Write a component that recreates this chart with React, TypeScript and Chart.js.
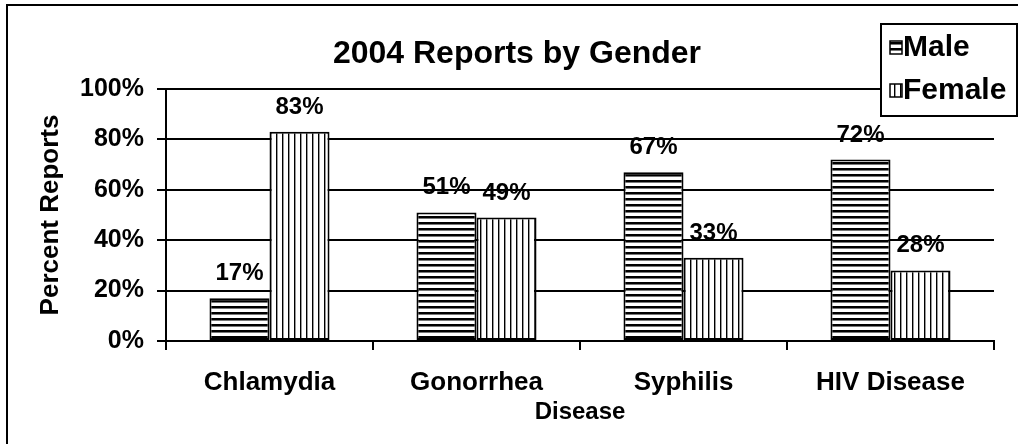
import React, { useEffect, useRef } from "react";
import { Chart, registerables } from "chart.js";

Chart.register(...registerables);

const categories = ["Chlamydia", "Gonorrhea", "Syphilis", "HIV Disease"];
const maleValues = [17, 51, 67, 72];
const femaleValues = [83, 49, 33, 28];
const seriesNames = ["Male", "Female"];
const yTicks = [0, 20, 40, 60, 80, 100];
const chartTitle = "2004 Reports by Gender";

const FONT = "'Liberation Sans', Arial, sans-serif";

function makePattern(kind: "h" | "v"): CanvasPattern | string {
  const c = document.createElement("canvas");
  c.width = 6;
  c.height = 6;
  const x = c.getContext("2d");
  if (!x) return "#fff";
  x.fillStyle = "#fff";
  x.fillRect(0, 0, 6, 6);
  if (kind === "h") {
    x.fillStyle = "#000";
    x.fillRect(0, 0, 6, 2);
    x.fillStyle = "#777";
    x.fillRect(0, 2, 6, 1);
  } else {
    x.fillStyle = "#000";
    x.fillRect(0, 0, 1, 6);
    x.fillStyle = "#999";
    x.fillRect(1, 0, 1, 6);
  }
  const p = x.createPattern(c, "repeat");
  return p || "#fff";
}

export default function App() {
  const ref = useRef<HTMLCanvasElement | null>(null);

  useEffect(() => {
    if (!ref.current) return;
    const malePat = makePattern("h");
    const femalePat = makePattern("v");
    const fills = [malePat, femalePat];

    const borderPlugin = {
      id: "outerBorder",
      beforeDraw(chart: any) {
        const ctx = chart.ctx;
        ctx.save();
        ctx.fillStyle = "#fff";
        ctx.fillRect(0, 0, chart.width, chart.height);
        ctx.strokeStyle = "#000";
        ctx.lineWidth = 2;
        ctx.strokeRect(7, 5, 3000, 3000);
        ctx.fillStyle = "#000";
        ctx.font = `bold 32px ${FONT}`;
        ctx.textAlign = "center";
        ctx.textBaseline = "middle";
        ctx.fillText(chartTitle, 517, 54);
        ctx.restore();
      },
    };

    const labelPlugin = {
      id: "valueLabels",
      afterDatasetsDraw(chart: any) {
        const ctx = chart.ctx;
        ctx.save();
        ctx.font = `bold 24px ${FONT}`;
        ctx.fillStyle = "#000";
        ctx.textAlign = "center";
        ctx.textBaseline = "alphabetic";
        chart.data.datasets.forEach((ds: any, di: number) => {
          const meta = chart.getDatasetMeta(di);
          meta.data.forEach((bar: any, i: number) => {
            ctx.fillText(`${ds.data[i]}%`, bar.x, bar.y - 18);
          });
        });
        ctx.restore();
      },
    };

    const legendPlugin = {
      id: "boxLegend",
      afterDraw(chart: any) {
        const ctx = chart.ctx;
        ctx.save();
        const bx = 881, by = 24, bw = 136, bh = 92;
        ctx.fillStyle = "#fff";
        ctx.fillRect(bx, by, bw, bh);
        ctx.strokeStyle = "#000";
        ctx.lineWidth = 2;
        ctx.strokeRect(bx, by, bw, bh);
        const rows = [47, 90];
        chart.data.datasets.forEach((ds: any, di: number) => {
          const cy = rows[di];
          ctx.fillStyle = fills[di];
          ctx.fillRect(890, cy - 6, 12, 13);
          ctx.lineWidth = 1.5;
          ctx.strokeStyle = "#000";
          ctx.strokeRect(890, cy - 6, 12, 13);
          ctx.fillStyle = "#000";
          ctx.font = `bold 30px ${FONT}`;
          ctx.textAlign = "left";
          ctx.textBaseline = "middle";
          ctx.fillText(ds.label, 903, cy + 1);
        });
        ctx.restore();
      },
    };

    const chart = new Chart(ref.current, {
      type: "bar",
      data: {
        labels: categories,
        datasets: [
          {
            label: seriesNames[0],
            data: maleValues,
            backgroundColor: malePat as any,
            borderColor: "#000",
            borderWidth: 2,
            borderSkipped: false,
            categoryPercentage: 0.58,
            barPercentage: 1,
          },
          {
            label: seriesNames[1],
            data: femaleValues,
            backgroundColor: femalePat as any,
            borderColor: "#000",
            borderWidth: 2,
            borderSkipped: false,
            categoryPercentage: 0.58,
            barPercentage: 1,
          },
        ],
      },
      options: {
        responsive: false,
        animation: false,
        layout: { padding: { left: 0, right: 24, top: 89, bottom: 0 } },
        plugins: {
          legend: { display: false },
          tooltip: { enabled: false },
          title: { display: false },
        },
        scales: {
          x: {
            afterFit: (s: any) => {
              s.height = 103;
            },
            grid: {
              drawOnChartArea: false,
              drawTicks: true,
              tickLength: 9,
              color: "#000",
              lineWidth: 2,
              offset: true,
            },
            border: { display: true, color: "#000", width: 2 },
            ticks: {
              color: "#000",
              padding: 17,
              font: { family: FONT, size: 26, weight: "bold" },
              maxRotation: 0,
            },
            title: {
              display: true,
              text: "Disease",
              color: "#000",
              font: { family: FONT, size: 24, weight: "bold" },
              padding: { top: 0, bottom: 17.6 },
            },
          },
          y: {
            min: 0,
            max: 100,
            afterFit: (s: any) => {
              s.width = 166;
            },
            afterBuildTicks: (s: any) => {
              s.ticks = yTicks.map((v) => ({ value: v }));
            },
            grid: {
              color: "#000",
              lineWidth: 2,
              tickLength: 9,
              drawTicks: true,
            },
            border: { display: true, color: "#000", width: 2 },
            ticks: {
              color: "#000",
              padding: 13,
              font: { family: FONT, size: 25, weight: "bold" },
              callback: (v: any) => `${v}%`,
            },
            title: {
              display: true,
              text: "Percent Reports",
              color: "#000",
              font: { family: FONT, size: 26, weight: "bold" },
              padding: { top: 35, bottom: 0 },
            },
          },
        },
      },
      plugins: [borderPlugin, labelPlugin, legendPlugin],
    });

    return () => chart.destroy();
  }, []);

  return (
    <div style={{ position: "absolute", left: 0, top: 0, width: 1018, height: 444 }}>
      <canvas ref={ref} width={1018} height={444} style={{ display: "block", width: 1018, height: 444 }} />
    </div>
  );
}
